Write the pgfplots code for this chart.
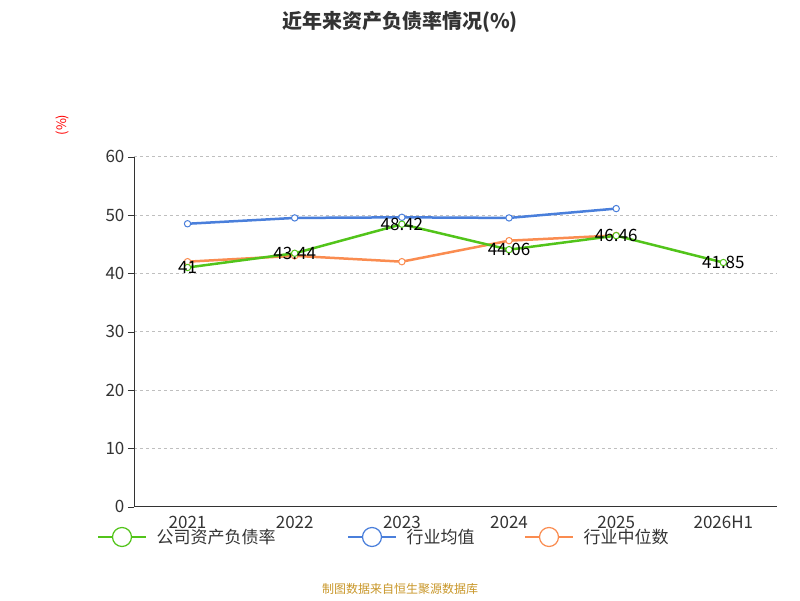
\documentclass[border=0pt]{standalone}
\usepackage{pgfplots}
\pgfplotsset{compat=1.18}
\usepackage{fontspec}
\setmainfont{Noto Sans CJK SC}
\definecolor{cg}{HTML}{52C41A}
\definecolor{cb}{HTML}{4A7FDB}
\definecolor{co}{HTML}{FA8C50}
\definecolor{tx}{HTML}{333333}
\begin{document}
\begin{tikzpicture}[x=1pt,y=1pt]
\path[use as bounding box] (0,0) rectangle (800,600);
\begin{axis}[at={(125,160)},anchor=south west,scale only axis,width=643,height=350,
 xmin=-0.5,xmax=5.5,ymin=0,ymax=60,
 xtick={0,...,5},xticklabels={2021,2022,2023,2024,2025,2026H1},
 x tick style={draw=none},
 extra x ticks={-0.5,0.5,...,5.5},extra x tick labels={},
 extra x tick style={tick style={draw=tx},grid=none},
 xtick pos=bottom,ytick pos=left,tick align=outside,
 ytick={0,10,...,60},major tick length=6pt,
 ymajorgrids,grid style={dashed,gray!50,line width=0.8pt},
 axis x line*=bottom,axis y line*=left,
 axis line style={tx,line width=0.8pt},tick style={tx},
 ticklabel style={font=\fontsize{17}{17}\selectfont,text=tx},
 /pgf/number format/assume math mode=true,
 every axis plot/.append style={line width=2.5pt,mark=*,mark size=3.2pt,mark options={fill=white,line width=1pt}},
]
\addplot[co] coordinates {(0,42) (1,43) (2,42) (3,45.6) (4,46.5)};
\addplot[cb] coordinates {(0,48.5) (1,49.5) (2,49.6) (3,49.5) (4,51.1)};
\addplot[cg,nodes near coords,point meta=explicit symbolic,
 every node near coord/.style={font=\fontsize{17}{17}\selectfont,text=black,anchor=center}]
 table[meta=l]{
x y l
0 41 41
1 43.44 43.44
2 48.42 48.42
3 44.06 44.06
4 46.46 46.46
5 41.85 41.85
};
\end{axis}
\node[rotate=90,red,font=\fontsize{13}{13}\selectfont] at (62,475) {(\%)};
\node[font=\bfseries\fontsize{20}{20}\selectfont,text=tx] at (400,578) {近年来资产负债率情况(\%)};
\foreach \c/\t/\x in {cg/公司资产负债率/98,cb/行业均值/348,co/行业中位数/525}{
 \draw[\c,line width=2pt] (\x,63)--(\x+48,63);
 \draw[\c,fill=white,line width=1.2pt] (\x+24,63) circle (9.5);
 \node[anchor=west,font=\fontsize{17}{17}\selectfont,text=tx] at (\x+55,63) {\t};
}
\node[font=\fontsize{12}{12}\selectfont,text={rgb,255:red,200;green,150;blue,40}] at (400,11) {制图数据来自恒生聚源数据库};
\end{tikzpicture}
\end{document}
